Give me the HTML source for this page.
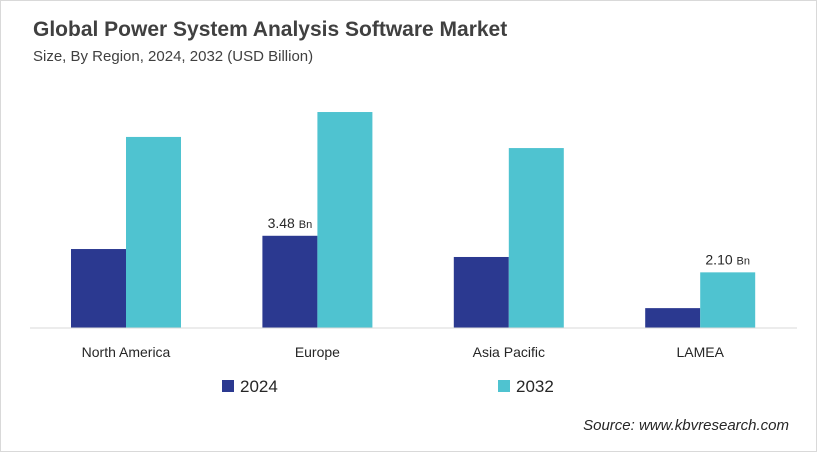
<!DOCTYPE html>
<html><head><meta charset="utf-8"><style>
body{margin:0;background:#fff;}
svg{display:block;font-family:"Liberation Sans",Arial,sans-serif;}
</style></head><body>
<svg width="817" height="452" viewBox="0 0 817 452">
<rect x="0.5" y="0.5" width="816" height="451" fill="#fff" stroke="#d9d9d9"/>
<text x="33" y="36" font-size="21" font-weight="bold" fill="#404040">Global Power System Analysis Software Market</text>
<text x="33" y="61" font-size="15" fill="#404040">Size, By Region, 2024, 2032 (USD Billion)</text>
<g id="bars"></g>
<line x1="30" y1="328" x2="797" y2="328" stroke="#d9d9d9"/>
<rect x="222" y="380" width="12" height="12" fill="#2b3990"/>
<text x="240" y="392" font-size="17" fill="#262626">2024</text>
<rect x="498" y="380" width="12" height="12" fill="#4fc3d0"/>
<text x="516" y="392" font-size="17" fill="#262626">2032</text>
<text x="789" y="430" font-size="15" font-style="italic" fill="#262626" text-anchor="end">Source: www.kbvresearch.com</text>
</svg>
<script>
const categories=["North America","Europe","Asia Pacific","LAMEA"];
const values2024=[2.98,3.48,2.68,0.75];
const values2032=[7.21,8.15,6.79,2.10];
const labels2024=[null,"3.48",null,null];
const labels2032=[null,null,null,"2.10"];
const NS="http://www.w3.org/2000/svg";
const g=document.getElementById("bars");
const base=328, scale=26.5, bw=55;
function xc(i){return 126+i*191.4;}
function y(v){return base-v*scale;}
function mk(t,a){const e=document.createElementNS(NS,t);for(const k in a)e.setAttribute(k,a[k]);g.appendChild(e);return e;}
categories.forEach((c,i)=>{
  const r1=mk("rect",{x:xc(i)-bw,y:y(values2024[i]),width:bw,height:base-y(values2024[i]),fill:"#2b3990"});
  
  
  const r2=mk("rect",{x:xc(i),y:y(values2032[i]),width:bw,height:base-y(values2032[i]),fill:"#4fc3d0"});
  
  
  const t=mk("text",{x:xc(i),y:357,"font-size":14,fill:"#262626","text-anchor":"middle"});
  t.textContent=c;
  
  
  [[labels2024[i],xc(i)-bw/2,values2024[i]],[labels2032[i],xc(i)+bw/2,values2032[i]]].forEach(([l,x,v])=>{
    if(!l)return;
    const lt=mk("text",{x:x,y:y(v)-8,"font-size":14,fill:"#262626","text-anchor":"middle"});
    lt.innerHTML=l+' <tspan font-size="11">Bn</tspan>';
    
    
  });
});
</script>
</body></html>
